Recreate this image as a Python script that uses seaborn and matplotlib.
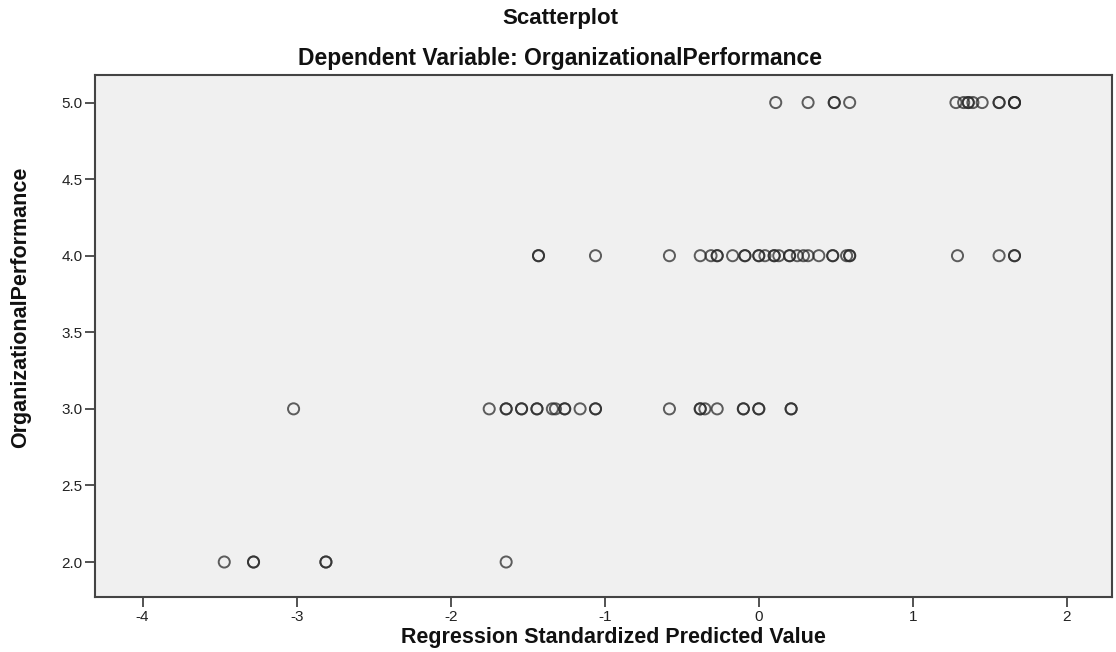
import matplotlib
matplotlib.use("Agg")
import matplotlib.pyplot as plt
import seaborn as sns
import pandas as pd

# values, one list per performance level
pred_at_5 = [0.11, 0.32, 0.49, 0.49, 0.59, 1.28, 1.33, 1.36, 1.36, 1.39, 1.45,
             1.56, 1.56, 1.66, 1.66, 1.66]
pred_at_4 = [-1.43, -1.43, -1.06, -0.58, -0.38, -0.31, -0.27, -0.27, -0.17,
             -0.09, -0.09, 0.0, 0.0, 0.04, 0.1, 0.1, 0.13, 0.2, 0.2, 0.25,
             0.29, 0.32, 0.39, 0.48, 0.48, 0.57, 0.59, 0.59, 1.29, 1.56,
             1.66, 1.66]
pred_at_3 = [-3.02, -1.75, -1.64, -1.64, -1.54, -1.54, -1.44, -1.44, -1.34,
             -1.32, -1.26, -1.26, -1.16, -1.06, -1.06, -0.58, -0.38, -0.38,
             -0.35, -0.27, -0.1, -0.1, 0.0, 0.0, 0.21, 0.21]
pred_at_2 = [-3.47, -3.28, -3.28, -2.81, -2.81, -1.64]

levels = [5.0, 4.0, 3.0, 2.0]
x_ticks = [-4, -3, -2, -1, 0, 1, 2]
y_ticks = [2.0, 2.5, 3.0, 3.5, 4.0, 4.5, 5.0]

rows = []
for lvl, xs in zip(levels, [pred_at_5, pred_at_4, pred_at_3, pred_at_2]):
    for v in xs:
        rows.append({"pred": v, "perf": lvl})
df = pd.DataFrame(rows)

sns.set_style("white")
plt.rcParams["font.family"] = ["Liberation Sans", "DejaVu Sans"]

fig = plt.figure(figsize=(11.16, 6.52), dpi=100)
ax = fig.add_axes([0.085, 0.084, 0.911, 0.801])
ax.set_facecolor("#f0f0f0")

sns.scatterplot(data=df, x="pred", y="perf", ax=ax, marker="o", s=64,
                facecolor="none", edgecolor="#2a2a2a", linewidth=1.4,
                alpha=0.75, legend=False)

ax.set_xlim(-4.31, 2.29)
ax.set_ylim(1.77, 5.18)
ax.set_xticks(x_ticks)
ax.set_xticklabels([str(t) for t in x_ticks])
ax.set_yticks(y_ticks)
ax.set_yticklabels(["%.1f" % t for t in y_ticks])
ax.tick_params(axis="both", direction="out", length=7, width=1.3,
               color="#444444", labelsize=11, labelcolor="#222222",
               bottom=True, left=True, pad=2)
for sp in ax.spines.values():
    sp.set_color("#444444")
    sp.set_linewidth(1.5)

ax.set_xlabel("Regression Standardized Predicted Value", fontsize=15.5,
              fontweight="bold", color="#111111")
ax.set_ylabel("OrganizationalPerformance", fontsize=15.5, fontweight="bold",
              color="#111111")
ax.xaxis.set_label_coords(0.51, -0.057)
ax.yaxis.set_label_coords(-0.063, 0.556)

fig.text(0.502, 0.972, "Scatterplot", ha="center", va="center",
         fontsize=16, fontweight="bold", color="#111111")
fig.text(0.502, 0.911, "Dependent Variable: OrganizationalPerformance",
         ha="center", va="center", fontsize=16.5, fontweight="bold",
         color="#111111")

fig.savefig("out.png", dpi=100)
